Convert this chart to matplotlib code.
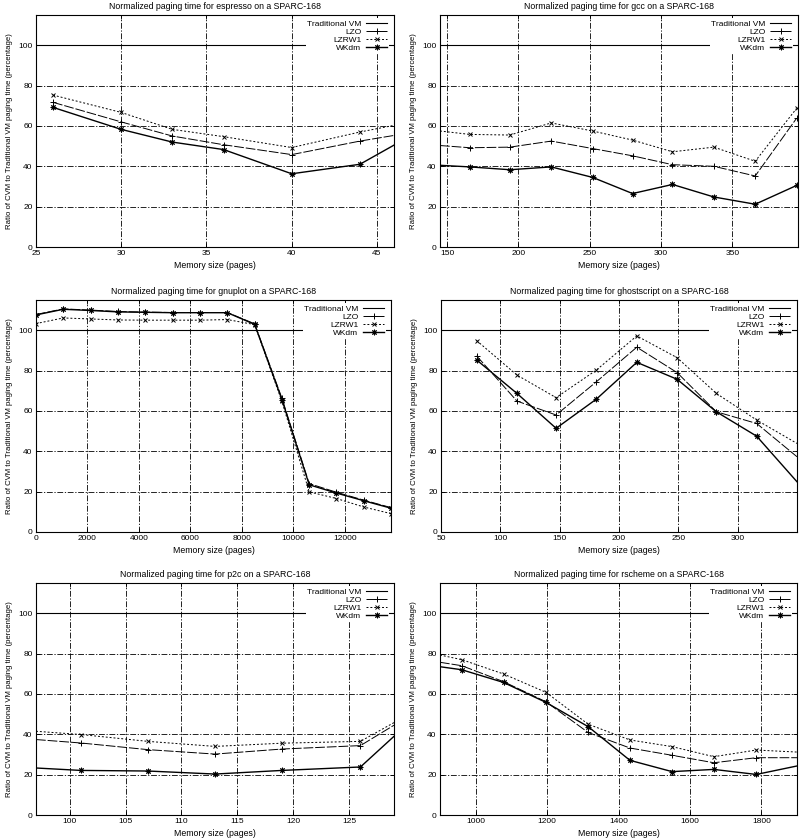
"""
Normalized paging time of compressed VM vs traditional VM on a SPARC-168.
"""

import matplotlib
matplotlib.use("Agg")

import matplotlib.pyplot as plt

plt.rcParams["font.family"] = ["Liberation Sans", "DejaVu Sans"]
plt.rcParams["font.size"] = 6

TRADITIONAL = 100.0

# espresso (last point sits on the right edge of the plot)
ESP_X = [26, 30, 33, 36, 40, 44, 46]
ESP_LZO = [71.7, 62.0, 55.0, 50.7, 45.8, 52.5, 55.3]
ESP_LZRW1 = [75.3, 66.7, 58.3, 54.7, 49.3, 57.0, 60.3]
ESP_WKDM = [69.2, 58.3, 52.0, 48.3, 36.3, 41.0, 50.5]

# gcc (first point sits on the left edge)
GCC_X = [145, 166, 194, 223, 252, 280, 308, 337, 366, 395]
GCC_LZO = [50.3, 49.2, 49.5, 52.5, 48.8, 45.2, 40.8, 40.0, 35.2, 63.8]
GCC_LZRW1 = [57.5, 55.8, 55.5, 61.5, 57.5, 53.0, 47.2, 49.5, 42.5, 68.7]
GCC_WKDM = [40.5, 39.7, 38.3, 39.7, 34.5, 26.5, 31.0, 24.8, 21.2, 30.5]

# gnuplot
GNU_X = [0, 1060, 2120, 3190, 4250, 5310, 6370, 7440, 8500, 9560,
         10620, 11680, 12740, 13800]
GNU_LZO = [107.8, 110.6, 110.0, 109.3, 109.0, 108.8, 108.8, 108.8, 103.2,
           66.3, 24.0, 19.7, 15.8, 12.1]
GNU_LZRW1 = [103.3, 106.1, 105.6, 105.1, 105.0, 105.0, 105.0, 105.3, 102.8,
             64.7, 19.9, 16.6, 12.4, 9.1]
GNU_WKDM = [107.6, 110.4, 109.8, 109.1, 108.9, 108.7, 108.7, 108.7, 102.9,
            65.6, 23.4, 19.3, 15.5, 11.8]

# ghostscript (last point on the right edge)
GS_X = [80, 114, 147, 181, 215, 249, 282, 316, 350]
GS_LZO = [87.3, 64.9, 58.0, 74.5, 91.6, 79.0, 59.6, 53.8, 37.3]
GS_LZRW1 = [94.9, 77.8, 66.6, 80.3, 97.2, 86.4, 68.7, 55.5, 43.9]
GS_WKDM = [85.3, 68.7, 51.4, 65.9, 84.1, 75.7, 59.6, 47.5, 24.9]

# p2c (first and last points on the edges)
P2C_X = [97, 101, 107, 113, 119, 126, 129]
P2C_LZO = [37.4, 35.7, 32.4, 30.2, 32.7, 34.4, 44.5]
P2C_LZRW1 = [41.5, 39.9, 36.5, 34.0, 35.6, 36.5, 45.8]
P2C_WKDM = [23.3, 22.1, 21.8, 20.3, 22.1, 23.8, 39.0]

# rscheme (first and last points on the edges)
RS_X = [900, 961, 1078, 1197, 1315, 1432, 1550, 1667, 1786, 1900]
RS_LZO = [75.7, 74.0, 66.1, 56.1, 40.9, 33.2, 29.6, 25.9, 28.4, 28.4]
RS_LZRW1 = [79.3, 77.0, 69.9, 60.8, 45.0, 37.2, 33.9, 28.9, 32.2, 31.2]
RS_WKDM = [73.5, 72.0, 65.7, 55.8, 43.8, 27.1, 21.5, 22.6, 20.1, 24.3]

GRID_STYLE = (0, (7, 2, 1.5, 2))


def draw_panel(ax, name, x, lzo, lzrw1, wkdm, xlim, xticks, marks):
    ax.axhline(TRADITIONAL, color="black", lw=0.8, label="Traditional VM")
    ax.plot(x, lzo, color="black", lw=0.7, linestyle=(0, (10, 2)),
            marker="+", markersize=4.5, markeredgewidth=0.7,
            markevery=marks, label="LZO")
    ax.plot(x, lzrw1, color="black", lw=0.7, linestyle=(0, (2, 2)),
            marker="x", markersize=3.5, markeredgewidth=0.7,
            markevery=marks, label="LZRW1")
    ax.plot(x, wkdm, color="black", lw=1.0,
            marker=(8, 2, 0), markersize=4, markeredgewidth=0.7,
            markevery=marks, label="WKdm")

    ax.set_xlim(*xlim)
    ax.set_ylim(0, 115)
    ax.set_xticks(xticks)
    ax.set_yticks([0, 20, 40, 60, 80, 100])

    ax.grid(True, color="black", lw=0.6, linestyle=GRID_STYLE)
    ax.set_axisbelow(True)
    ax.tick_params(direction="in", top=True, right=True, length=3,
                   width=0.6, pad=2.5, labelsize=6)
    for spine in ax.spines.values():
        spine.set_linewidth(0.8)

    ax.set_title(f"Normalized paging time for {name} on a SPARC-168",
                 fontsize=6.3, pad=4)
    ax.set_xlabel("Memory size (pages)", fontsize=6.3, labelpad=2.5)
    ax.set_ylabel("Ratio of CVM to Traditional VM paging time (percentage)",
                  fontsize=5.6, labelpad=4)

    leg = ax.legend(loc="upper right", bbox_to_anchor=(0.985, 0.985),
                    markerfirst=False, frameon=True, fancybox=False,
                    framealpha=1, edgecolor="white", fontsize=6,
                    handlelength=2.6, handletextpad=0.5, labelspacing=0.05,
                    borderpad=0.15, borderaxespad=0)
    leg.get_frame().set_linewidth(0)


fig = plt.figure(figsize=(8, 8.4), dpi=100)

rows = [1 - 247 / 840, 1 - 532 / 840, 1 - 815 / 840]
height = 232 / 840
left_col, right_col = 36 / 800, 440 / 800
width = 358 / 800

ax1 = fig.add_axes([left_col, rows[0], width, height])
draw_panel(ax1, "espresso", ESP_X, ESP_LZO, ESP_LZRW1, ESP_WKDM,
           (25, 46), [25, 30, 35, 40, 45], slice(0, -1))

ax2 = fig.add_axes([right_col, rows[0], width, height])
draw_panel(ax2, "gcc", GCC_X, GCC_LZO, GCC_LZRW1, GCC_WKDM,
           (145, 396), [150, 200, 250, 300, 350], slice(1, None))

ax3 = fig.add_axes([left_col, rows[1], width - 3 / 800, height])
draw_panel(ax3, "gnuplot", GNU_X, GNU_LZO, GNU_LZRW1, GNU_WKDM,
           (0, 13800), [0, 2000, 4000, 6000, 8000, 10000, 12000], None)

ax4 = fig.add_axes([441 / 800, rows[1], width - 2 / 800, height])
draw_panel(ax4, "ghostscript", GS_X, GS_LZO, GS_LZRW1, GS_WKDM,
           (50, 350), [50, 100, 150, 200, 250, 300], slice(0, -1))

ax5 = fig.add_axes([left_col, rows[2], width, height])
draw_panel(ax5, "p2c", P2C_X, P2C_LZO, P2C_LZRW1, P2C_WKDM,
           (97, 129), [100, 105, 110, 115, 120, 125], slice(1, -1))

ax6 = fig.add_axes([right_col, rows[2], width - 1 / 800, height])
draw_panel(ax6, "rscheme", RS_X, RS_LZO, RS_LZRW1, RS_WKDM,
           (900, 1900), [1000, 1200, 1400, 1600, 1800], slice(1, -1))

fig.savefig("out.png", dpi=100)
plt.close(fig)
